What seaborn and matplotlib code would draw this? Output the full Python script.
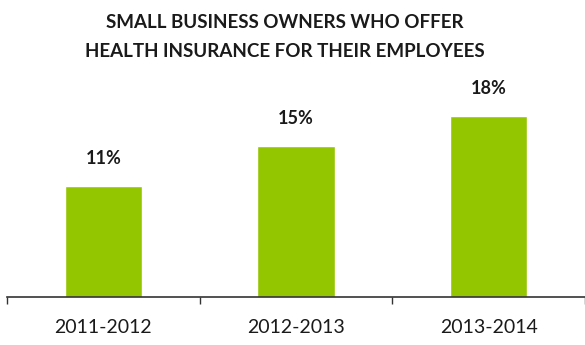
import matplotlib
matplotlib.use("Agg")
import matplotlib.pyplot as plt
import seaborn as sns
import pandas as pd

periods = ["2011-2012", "2012-2013", "2013-2014"]
share_pct = [11, 15, 18]
value_labels = ["11%", "15%", "18%"]

sns.set_theme(style="white")
plt.rcParams["font.family"] = ["Lato", "DejaVu Sans"]

df = pd.DataFrame({"period": periods, "share": share_pct})

fig = plt.figure(figsize=(5.85, 3.45), dpi=100)
ax = fig.add_axes([7 / 585, 0.139, 1 - 7 / 585, 0.583])

sns.barplot(data=df, x="period", y="share", color="#94C600", saturation=1,
            width=0.4, ax=ax)

ax.set_xlim(-0.5, 2.5)
ax.set_ylim(0, 20)

for i, (v, lab) in enumerate(zip(share_pct, value_labels)):
    ax.annotate(lab, xy=(i, v), xytext=(0, 20), textcoords="offset points",
                ha="center", va="center", fontsize=13, fontweight="bold",
                color="#1a1a1a")

ax.set_xlabel("")
ax.set_ylabel("")
ax.set_yticks([])
ax.set_xticks(range(len(periods)))
ax.set_xticklabels(periods, fontsize=14, color="#1a1a1a")
ax.set_xticks([-0.5, 0.5, 1.5, 2.5], minor=True)
ax.tick_params(axis="x", which="major", length=0, pad=16)
ax.tick_params(axis="x", which="minor", length=5, width=1, color="#333333",
               direction="out", bottom=True)

for side in ["top", "right", "left"]:
    ax.spines[side].set_visible(False)
ax.spines["bottom"].set_color("#333333")
ax.spines["bottom"].set_linewidth(1.2)

fig.text(0.487, 0.935, "SMALL BUSINESS OWNERS WHO OFFER", ha="center",
         va="center", fontsize=13.5, fontweight="bold", color="#1a1a1a")
fig.text(0.487, 0.852, "HEALTH INSURANCE FOR THEIR EMPLOYEES", ha="center",
         va="center", fontsize=13.5, fontweight="bold", color="#1a1a1a")

fig.savefig("out.png", dpi=100)
